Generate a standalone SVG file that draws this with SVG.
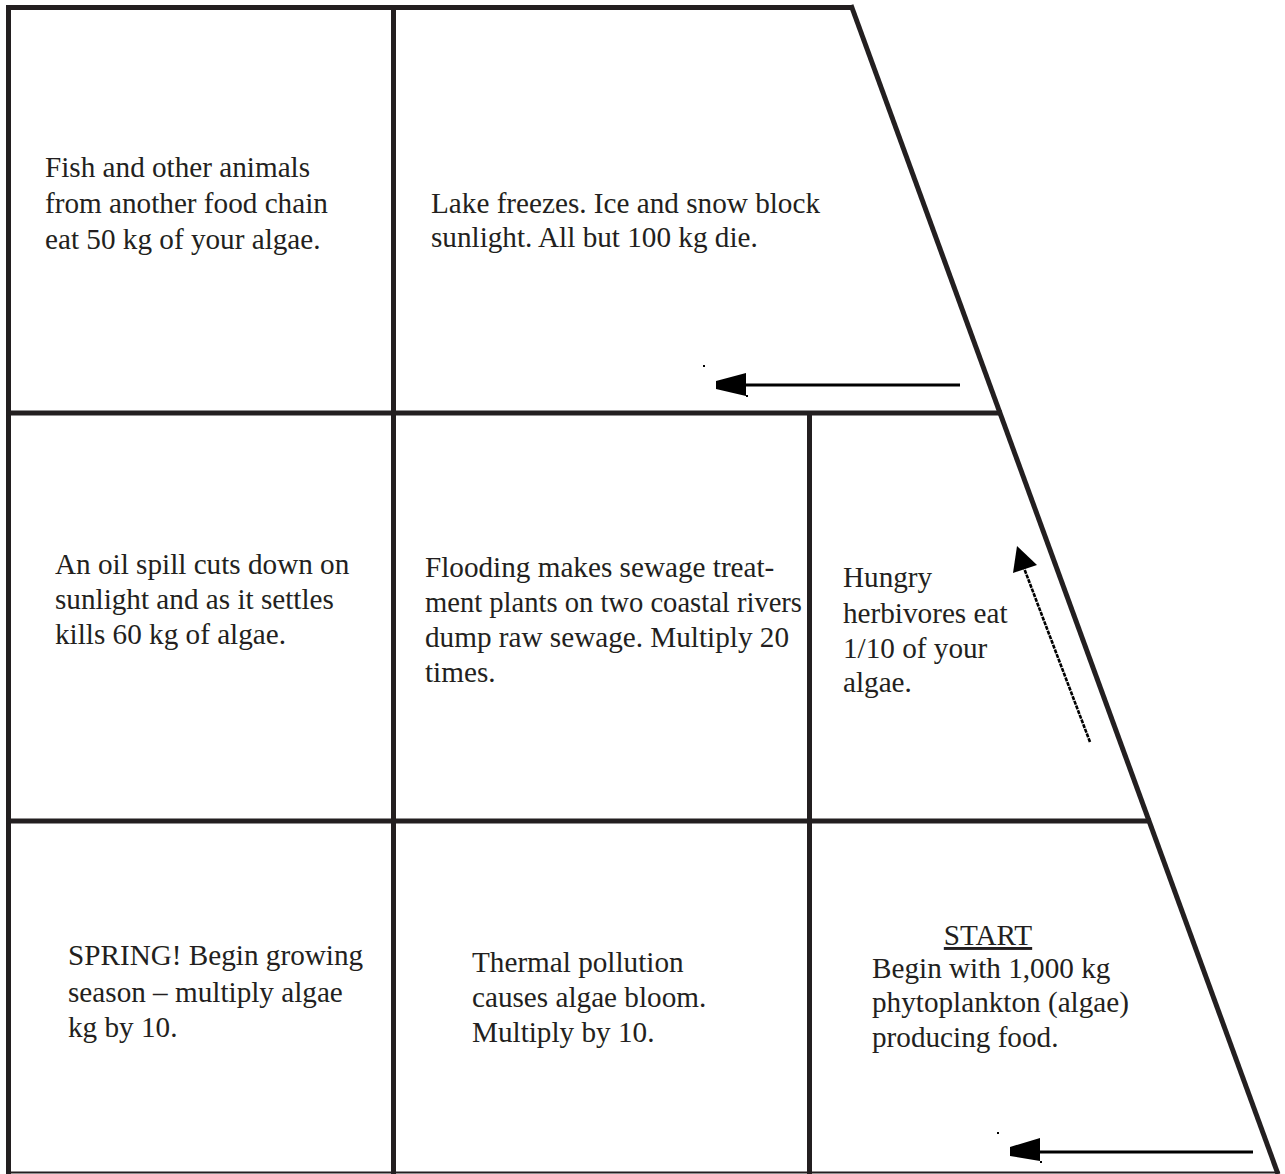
<svg xmlns="http://www.w3.org/2000/svg" width="1285" height="1174" viewBox="0 0 1285 1174">
<style>
.b{stroke:#231f20;stroke-width:5;fill:none;stroke-linecap:butt}
.t{font-family:"Liberation Serif","Times New Roman",serif;font-size:29.2px;fill:#231f20}
.a{stroke:#000;stroke-width:3;fill:none}
.h{fill:#000}
</style>
<rect width="1285" height="1174" fill="#fff"/>
<g id="grid">
<line class="b" x1="6" y1="7.5" x2="853" y2="7.5"/>
<line class="b" x1="8.5" y1="5" x2="8.5" y2="1174"/>
<line class="b" x1="393.5" y1="5" x2="393.5" y2="1174"/>
<line class="b" x1="809.5" y1="413" x2="809.5" y2="1174"/>
<line class="b" x1="6" y1="413" x2="1002" y2="413"/>
<line class="b" x1="6" y1="821" x2="1151" y2="821"/>
<line class="b" x1="851" y1="5" x2="1278" y2="1174"/>
<line x1="6" y1="1172.5" x2="1280" y2="1172.5" stroke="#231f20" stroke-width="2"/>
</g>
<g id="n-fish"><text class="t" x="45" y="177">Fish and other animals</text><text class="t" x="45" y="213">from another food chain</text><text class="t" x="45" y="249">eat 50 kg of your algae.</text></g>
<g id="n-lake"><text class="t" x="431" y="213">Lake freezes. Ice and snow block</text><text class="t" x="431" y="247">sunlight. All but 100 kg die.</text></g>
<g id="n-oil"><text class="t" x="55" y="574">An oil spill cuts down on</text><text class="t" x="55" y="609">sunlight and as it settles</text><text class="t" x="55" y="644">kills 60 kg of algae.</text></g>
<g id="n-flood"><text class="t" x="425" y="577">Flooding makes sewage treat-</text><text class="t" x="425" y="612" textLength="377" lengthAdjust="spacingAndGlyphs">ment plants on two coastal rivers</text><text class="t" x="425" y="647">dump raw sewage. Multiply 20</text><text class="t" x="425" y="682">times.</text></g>
<g id="n-hungry"><text class="t" x="843" y="587">Hungry</text><text class="t" x="843" y="623">herbivores eat</text><text class="t" x="843" y="658">1/10 of your</text><text class="t" x="843" y="692">algae.</text></g>
<g id="n-spring"><text class="t" x="68" y="965">SPRING! Begin growing</text><text class="t" x="68" y="1002">season – multiply algae</text><text class="t" x="68" y="1037">kg by 10.</text></g>
<g id="n-thermal"><text class="t" x="472" y="972">Thermal pollution</text><text class="t" x="472" y="1007">causes algae bloom.</text><text class="t" x="472" y="1042">Multiply by 10.</text></g>
<g id="n-start"><text class="t" x="988" y="945" text-anchor="middle" text-decoration="underline">START</text><text class="t" x="872" y="978">Begin with 1,000 kg</text><text class="t" x="872" y="1012">phytoplankton (algae)</text><text class="t" x="872" y="1047">producing food.</text></g>
<g id="connectors">
<line class="a" x1="742" y1="385" x2="960" y2="385"/>
<polygon class="h" points="716,381 716,389 746,396 746,373"/>
<rect class="h" x="703" y="365" width="2" height="2"/>
<rect class="h" x="746" y="395" width="2" height="2"/>
<line class="a" x1="1038" y1="1152" x2="1253" y2="1152"/>
<polygon class="h" points="1010,1147 1010,1156 1040,1161 1040,1138"/>
<rect class="h" x="997" y="1132" width="2" height="2"/>
<rect class="h" x="1040" y="1161" width="2" height="2"/>
<line x1="1090" y1="742" x2="1024" y2="568" stroke="#000" stroke-width="2.6" stroke-dasharray="4 1"/>
<polygon class="h" points="1017,546 1013,573 1037,565"/>
</g>
</svg>
